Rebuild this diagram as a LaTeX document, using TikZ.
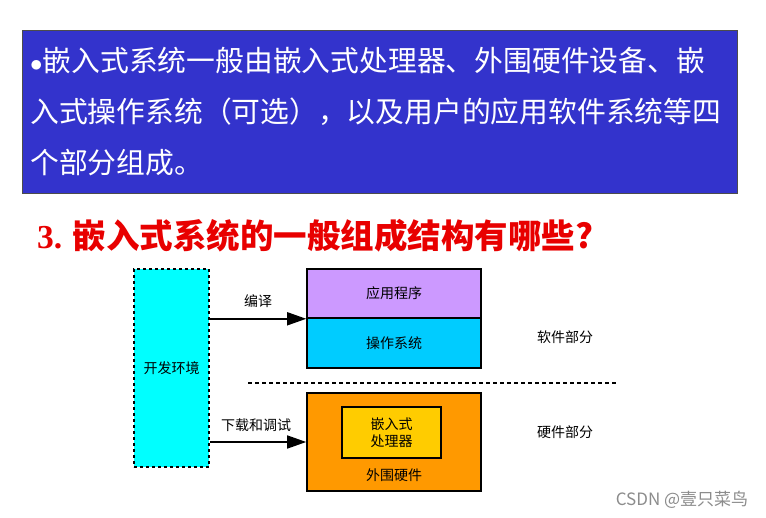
\documentclass[tikz,border=0pt]{standalone}
\usepackage{fontspec}
\setmainfont{Noto Sans CJK SC}
\newfontfamily\numfont{Liberation Serif}
\usetikzlibrary{arrows.meta}

\definecolor{slideblue}{RGB}{51,51,204}
\definecolor{appviolet}{RGB}{204,153,255}
\definecolor{oscyan}{RGB}{0,204,255}
\definecolor{devcyan}{RGB}{0,255,255}
\definecolor{hworange}{RGB}{255,153,0}
\definecolor{cpuyellow}{RGB}{255,204,0}
\definecolor{titlered}{RGB}{232,0,0}

\tikzset{
  block/.style={draw, line width=1.6pt, inner sep=0pt, font=\fontsize{14}{17}\selectfont},
  flow/.style={line width=1.6pt, -{Triangle[length=19pt,width=13pt]}},
  lbl/.style={inner sep=0pt, font=\fontsize{14}{17}\selectfont}
}

\begin{document}
\begin{tikzpicture}[x=1pt,y=-1pt]
  % page frame
  \fill[white] (0,0) rectangle (766,518);
  \useasboundingbox (0,0) rectangle (766,518);

  % blue text panel
  \draw[fill=slideblue, draw=black!70, line width=0.8pt] (22,30) rectangle (737,193);
  \node[anchor=north west, inner sep=0pt, text=white, align=left,
        font=\fontsize{28.8}{51}\selectfont] (intro) at (30,47)
    {$\bullet$嵌入式系统一般由嵌入式处理器、外围硬件设备、嵌\\
     入式操作系统（可选），以及用户的应用软件系统等四\\
     个部分组成。};

  % red question
  \node[anchor=west, inner sep=0pt, text=titlered,
        font=\fontsize{33.5}{36}\selectfont\bfseries] (question) at (37,236)
    {{\numfont 3.} 嵌入式系统的一般组成结构有哪些?};

  % development environment
  \node[block, dashed, fill=devcyan, minimum width=75pt, minimum height=198pt] (devenv) at (171.5,368) {开发环境};

  % software layers
  \node[block, fill=appviolet, minimum width=174pt, minimum height=49pt] (app) at (394,293.5) {应用程序};
  \node[block, fill=oscyan, minimum width=174pt, minimum height=50pt] (os) at (394,343) {操作系统};

  % hardware
  \node[block, fill=hworange, minimum width=174pt, minimum height=98pt] (hw) at (394,442) {};
  \node[block, fill=cpuyellow, minimum width=99pt, minimum height=51pt, align=center] (cpu) at (391.5,432.5) {嵌入式\\处理器};
  \node[lbl] (hwtext) at (394,475) {外围硬件};

  % separator between software and hardware
  \coordinate (sepL) at (248,383);
  \coordinate (sepR) at (617,383);
  \draw[line width=2.2pt, dash pattern=on 4pt off 3pt] (sepL) -- (sepR);

  % arrows from the development environment
  \draw[flow] (devenv.east |- app.south west) -- (app.south west);
  \draw[flow] (devenv.east |- hw.west) -- (hw.west);
  \node[lbl] (compile) at (258,301) {编译};
  \node[lbl] (download) at (256,425) {下载和调试};

  % side labels
  \node[lbl] (swpart) at (565,337) {软件部分};
  \node[lbl] (hwpart) at (565,432) {硬件部分};

  % watermark
  \node[inner sep=0pt, text=black!45, font=\fontsize{17}{20}\selectfont] (mark) at (682,500) {CSDN @壹只菜鸟};
\end{tikzpicture}
\end{document}
